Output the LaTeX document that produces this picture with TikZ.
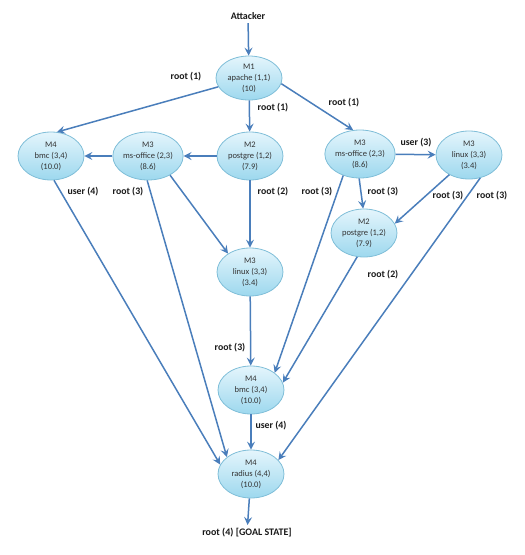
\documentclass[tikz,border=0pt]{standalone}
\usepackage{fontspec}
\setmainfont{Carlito}
\usetikzlibrary{arrows.meta,shapes.geometric}
\definecolor{edgeblue}{HTML}{4A7EBB}
\definecolor{nodetop}{HTML}{E4F5FC}
\definecolor{nodebot}{HTML}{9DD8EE}
\definecolor{nodeborder}{HTML}{7FBED8}
\definecolor{nodetext}{HTML}{333333}
\begin{document}
\begin{tikzpicture}[x=1pt,y=-1pt,
  host/.style={ellipse, draw=nodeborder, line width=0.8pt,
    top color=nodetop, bottom color=nodebot,
    minimum width=66pt, minimum height=48pt, inner sep=0pt,
    align=center, text=nodetext, font=\fontsize{8.5}{11}\selectfont},
  conn/.style={draw=edgeblue, line width=1.5pt,
    -{Stealth[length=8pt,width=8pt,inset=3pt]}},
  elabel/.style={font=\bfseries\fontsize{9.8}{11}\selectfont, text=black!90},
  endtext/.style={font=\bfseries\fontsize{10}{12}\selectfont, text=black!90}]
\useasboundingbox (0,0) rectangle (525,555);

\node[endtext] (att) at (248,16) {Attacker};
\node[host, minimum height=44pt] (m1) at (249,78) {M1\\apache (1,1)\\(10)};
\node[host] (m4l) at (51,156) {M4\\bmc (3,4)\\(10.0)};
\node[host] (m3l) at (148,156) {M3\\ms-office (2,3)\\(8.6)};
\node[host] (m2) at (250,156) {M2\\postgre (1,2)\\(7.9)};
\node[host] (m3r) at (360,154) {M3\\ms-office (2,3)\\(8.6)};
\node[host] (linr) at (469,155) {M3\\linux (3,3)\\(3.4)};
\node[host] (m2r) at (364,233) {M2\\postgre (1,2)\\(7.9)};
\node[host] (linc) at (250,272) {M3\\linux (3,3)\\(3.4)};
\node[host] (bmc) at (251,390) {M4\\bmc (3,4)\\(10.0)};
\node[host] (rad) at (251,474) {M4\\radius (4,4)\\(10.0)};
\node[endtext] (goal) at (247,533) {root (4) [GOAL STATE]};

\draw[conn] (att) -- (m1);
\draw[conn] (m1.196) -- (m4l.76);
\draw[conn] (m1) -- (m2);
\draw[conn] (m1.350) -- (m3r.106);
\draw[conn] (m2) -- (m3l);
\draw[conn] (m3l) -- (m4l);
\draw[conn] (m4l.277) -- (rad.163);
\draw[conn] (m3l.268) -- (rad.145);
\draw[conn] (m3l.319) -- (linc.140);
\draw[conn] (m2) -- (linc);
\draw[conn] (m3r) -- (linr);
\draw[conn] (m3r.268) -- (m2r.92);
\draw[conn] (m3r.232) -- (bmc.36);
\draw[conn] (linr.225) -- (m2r.17);
\draw[conn] (linr.296) -- (rad.27);
\draw[conn] (m2r.254) -- (bmc.13);
\draw[conn] (linc) -- (bmc);
\draw[conn] (bmc) -- (rad);
\draw[conn] (rad) -- (goal);

\node[elabel] (l1) at (186,77) {root (1)};
\node[elabel] (l2) at (273,108) {root (1)};
\node[elabel] (l3) at (344,103) {root (1)};
\node[elabel] (l4) at (83,192) {user (4)};
\node[elabel] (l5) at (128,192) {root (3)};
\node[elabel] (l6) at (273,192) {root (2)};
\node[elabel] (l7) at (416,143) {user (3)};
\node[elabel] (l8) at (317,192) {root (3)};
\node[elabel] (l9) at (383,192) {root (3)};
\node[elabel] (l10) at (448,196) {root (3)};
\node[elabel] (l11) at (492,196) {root (3)};
\node[elabel] (l12) at (383,275) {root (2)};
\node[elabel] (l13) at (230,348) {root (3)};
\node[elabel] (l14) at (271,426) {user (4)};
\end{tikzpicture}
\end{document}
